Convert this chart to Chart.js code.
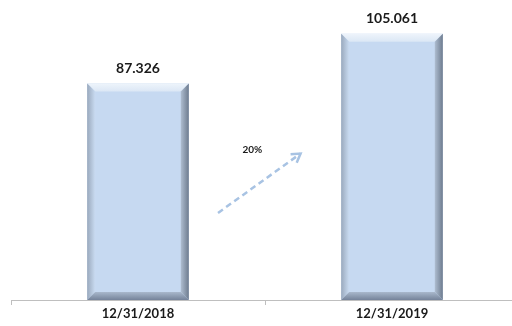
<!DOCTYPE html>
<html>
<head>
<meta charset="utf-8">
<script src="https://cdn.jsdelivr.net/npm/chart.js@4/dist/chart.umd.min.js"></script>
<style>
html,body{margin:0;padding:0;background:#fff;overflow:hidden;}
#wrap{width:520px;height:326px;position:relative;}
</style>
</head>
<body>
<div id="wrap"><canvas id="c"></canvas></div>
<script>
const categories = ["12/31/2018", "12/31/2019"];
const values = [87.326, 105.061];
const valueLabels = ["87.326", "105.061"];
const growthLabel = "20%";
const axisMin = 10;
const axisMax = 115;
// arrow endpoints in data space (category index, value)
const arrowFrom = [0.315, 41.1];
const arrowTo = [0.64, 62.3];
const growthAt = [0.45, 63.8];

const FONT = "Lato, 'Open Sans', 'Liberation Sans', sans-serif";

const bevelPlugin = {
  id: 'bevel',
  afterDatasetsDraw(chart) {
    const ctx = chart.ctx;
    const meta = chart.getDatasetMeta(0);
    meta.data.forEach((bar, i) => {
      const w = bar.width;
      const l = bar.x - w / 2, r = bar.x + w / 2, t = bar.y, b = bar.base;
      const d = 8;
      ctx.save();
      let g = ctx.createLinearGradient(0, t, 0, t + d);
      g.addColorStop(0, '#eef4fb'); g.addColorStop(1, '#dbe7f5');
      ctx.fillStyle = g;
      ctx.beginPath(); ctx.moveTo(l, t); ctx.lineTo(r, t); ctx.lineTo(r - d, t + d); ctx.lineTo(l + d, t + d); ctx.closePath(); ctx.fill();
      g = ctx.createLinearGradient(l, 0, l + d, 0);
      g.addColorStop(0, '#9aa9bd'); g.addColorStop(1, '#c9dbf1');
      ctx.fillStyle = g;
      ctx.beginPath(); ctx.moveTo(l, t); ctx.lineTo(l + d, t + d); ctx.lineTo(l + d, b - d); ctx.lineTo(l, b); ctx.closePath(); ctx.fill();
      g = ctx.createLinearGradient(r - d, 0, r, 0);
      g.addColorStop(0, '#aebdd0'); g.addColorStop(1, '#6e7c8f');
      ctx.fillStyle = g;
      ctx.beginPath(); ctx.moveTo(r, t); ctx.lineTo(r - d, t + d); ctx.lineTo(r - d, b - d); ctx.lineTo(r, b); ctx.closePath(); ctx.fill();
      g = ctx.createLinearGradient(0, b - d, 0, b);
      g.addColorStop(0, '#a9b8cc'); g.addColorStop(1, '#75839a');
      ctx.fillStyle = g;
      ctx.beginPath(); ctx.moveTo(l, b); ctx.lineTo(l + d, b - d); ctx.lineTo(r - d, b - d); ctx.lineTo(r, b); ctx.closePath(); ctx.fill();
      ctx.fillStyle = '#1a1a1a';
      ctx.font = "bold 14px " + FONT;
      ctx.textAlign = 'center';
      ctx.textBaseline = 'middle';
      ctx.fillText(valueLabels[i], bar.x, t - 15);
      ctx.restore();
    });
    const xs = chart.scales.x, ys = chart.scales.y;
    const x1 = xs.getPixelForValue(arrowFrom[0]), y1 = ys.getPixelForValue(arrowFrom[1]);
    const x2 = xs.getPixelForValue(arrowTo[0]), y2 = ys.getPixelForValue(arrowTo[1]);
    ctx.save();
    ctx.strokeStyle = '#a8c3e3';
    ctx.lineWidth = 2.5;
    ctx.setLineDash([6, 4]);
    ctx.beginPath(); ctx.moveTo(x1, y1); ctx.lineTo(x2, y2); ctx.stroke();
    ctx.setLineDash([]);
    const ang = Math.atan2(y2 - y1, x2 - x1);
    const hl = 10;
    ctx.beginPath();
    ctx.moveTo(x2 - hl * Math.cos(ang - 0.55), y2 - hl * Math.sin(ang - 0.55));
    ctx.lineTo(x2, y2);
    ctx.lineTo(x2 - hl * Math.cos(ang + 0.55), y2 - hl * Math.sin(ang + 0.55));
    ctx.stroke();
    ctx.fillStyle = '#1a1a1a';
    ctx.font = "bold 10px " + FONT;
    ctx.textAlign = 'center';
    ctx.textBaseline = 'middle';
    ctx.fillText(growthLabel, xs.getPixelForValue(growthAt[0]), ys.getPixelForValue(growthAt[1]));
    ctx.restore();
  }
};

new Chart(document.getElementById('c'), {
  type: 'bar',
  data: {
    labels: categories,
    datasets: [{
      data: values,
      base: axisMin,
      backgroundColor: '#c6d9f1',
      borderWidth: 0,
      barPercentage: 0.4,
      categoryPercentage: 1.0
    }]
  },
  options: {
    responsive: true,
    maintainAspectRatio: false,
    animation: false,
    events: [],
    layout: { padding: { left: 11, right: 1, top: 6, bottom: 0 } },
    plugins: { legend: { display: false }, tooltip: { enabled: false } },
    scales: {
      x: {
        offset: true,
        afterFit(s) { s.height = 26; },
        grid: { display: true, offset: true, drawOnChartArea: false, tickLength: 5, color: '#bfbfbf', lineWidth: 1 },
        border: { display: true, color: '#bfbfbf', width: 1 },
        ticks: { color: '#1a1a1a', font: { family: FONT, size: 13, weight: 'bold' }, padding: 1, maxRotation: 0 }
      },
      y: {
        display: false,
        min: axisMin,
        max: axisMax
      }
    }
  },
  plugins: [bevelPlugin]
});
</script>
</body>
</html>
